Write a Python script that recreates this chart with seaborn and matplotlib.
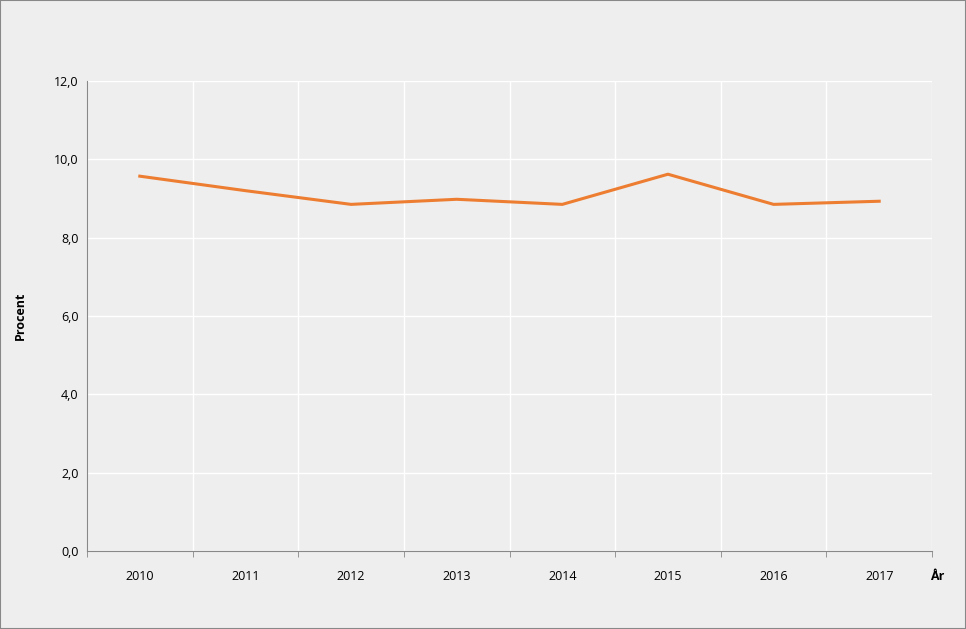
import matplotlib
matplotlib.use("Agg")
import matplotlib.pyplot as plt
import seaborn as sns
import pandas as pd
import numpy as np

years = ["2010", "2011", "2012", "2013", "2014", "2015", "2016", "2017"]
values = [9.57, 9.2, 8.85, 8.98, 8.85, 9.62, 8.85, 8.93]
yticks = [0, 2, 4, 6, 8, 10, 12]

plt.rcParams["font.family"] = "Open Sans"
bg = "#eeeeee"
fig = plt.figure(figsize=(9.66, 6.29), dpi=100, facecolor=bg)
fig.patches.append(plt.Rectangle((0, 0), 1, 1, transform=fig.transFigure,
                                 fill=False, edgecolor="#888888", lw=1.5))
ax = fig.add_axes([87/966, 1-551/629, (932-87)/966, (551-81)/629])
ax.set_facecolor(bg)
df = pd.DataFrame({"x": np.arange(len(years)), "v": values})
sns.lineplot(data=df, x="x", y="v", ax=ax, color="#ED7D31", lw=2.2)
ax.set_xlim(-0.5, len(years) - 0.5)
ax.set_ylim(0, 12)
ax.set_yticks(yticks)
ax.set_yticklabels([f"{t:.1f}".replace(".", ",") for t in yticks], fontsize=9)
ax.set_xticks(np.arange(len(years)))
ax.set_xticklabels(years, fontsize=9)
ax.set_xticks(np.arange(len(years) + 1) - 0.5, minor=True)
ax.tick_params(axis="x", which="major", length=0, pad=14)
ax.tick_params(axis="x", which="minor", length=4, color="#888888")
ax.tick_params(axis="y", length=0, pad=6)
ax.grid(axis="y", color="white", lw=1)
ax.grid(axis="x", which="minor", color="white", lw=1)
ax.set_axisbelow(True)
for s in ["top", "right"]:
    ax.spines[s].set_visible(False)
ax.spines["left"].set_color("#888888")
ax.spines["bottom"].set_color("#888888")
ax.set_xlabel("")
ax.set_ylabel("Procent", fontsize=9, fontweight="bold", labelpad=20)
fig.text(937/966, 1-576/629, "År", fontsize=9, fontweight="bold", va="center", ha="center")
fig.savefig("out.png", dpi=100, facecolor=bg)
